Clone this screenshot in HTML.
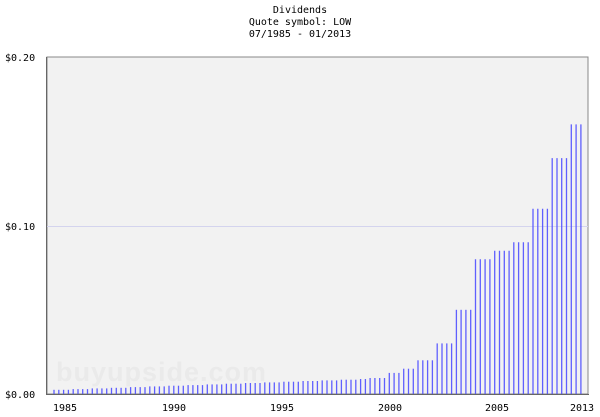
<!DOCTYPE html>
<html><head><style>
body{margin:0;background:#fff;width:600px;height:417px;overflow:hidden}
svg{display:block}
text{font-family:"DejaVu Sans Mono","Liberation Mono",monospace;font-size:10px;fill:#000}
</style></head><body>
<svg id="s" width="600" height="417" xmlns="http://www.w3.org/2000/svg">
<text x="300" y="13" text-anchor="middle">Dividends</text>
<text x="300" y="25" text-anchor="middle">Quote symbol: LOW</text>
<text x="300" y="37" text-anchor="middle">07/1985 - 01/2013</text>
<rect x="47" y="57" width="541" height="337" fill="#f2f2f2" stroke="#888" stroke-width="1"/>
<text x="56" y="381" style="font-family:'Liberation Sans',sans-serif;font-size:27px;font-weight:bold;fill:#eaeaea;letter-spacing:1px">buyupside.com</text>
<line x1="47" y1="226.5" x2="588" y2="226.5" stroke="#d4d4ee" stroke-width="1"/>
<g id="bars"></g>
<line x1="46.5" y1="57" x2="46.5" y2="395" stroke="#666"/>
<line x1="46" y1="394.5" x2="589" y2="394.5" stroke="#666"/>
<text x="5" y="61">$0.20</text>
<text x="5" y="230">$0.10</text>
<text x="5" y="398">$0.00</text>
<text x="65" y="411" text-anchor="middle">1985</text>
<text x="174" y="411" text-anchor="middle">1990</text>
<text x="282" y="411" text-anchor="middle">1995</text>
<text x="390" y="411" text-anchor="middle">2000</text>
<text x="497" y="411" text-anchor="middle">2005</text>
<text x="582" y="411" text-anchor="middle">2013</text>
</svg>
<script>
var g=document.getElementById('bars'),h='';
for(var i=0;i<111;i++){
 var v;
 if(i>=108)v=0.16;else if(i>=104)v=0.14;else if(i>=100)v=0.11;else if(i>=96)v=0.09;
 else if(i>=92)v=0.085;else if(i>=88)v=0.08;else if(i>=84)v=0.05;else if(i>=80)v=0.03;
 else if(i>=76)v=0.02;else if(i>=73)v=0.015;else if(i>=70)v=0.0125;else if(i>=66)v=0.0095;
 else v=0.0025+Math.floor(i/4)*0.0004;
 var x=54+4.79*i, y=394-v*1685;
 h+='<line x1="'+x.toFixed(1)+'" y1="'+y.toFixed(1)+'" x2="'+x.toFixed(1)+'" y2="394" stroke="#4f4fff" stroke-width="1.3" stroke-opacity="0.9"/>';
}
g.innerHTML=h;
</script>
</body></html>
